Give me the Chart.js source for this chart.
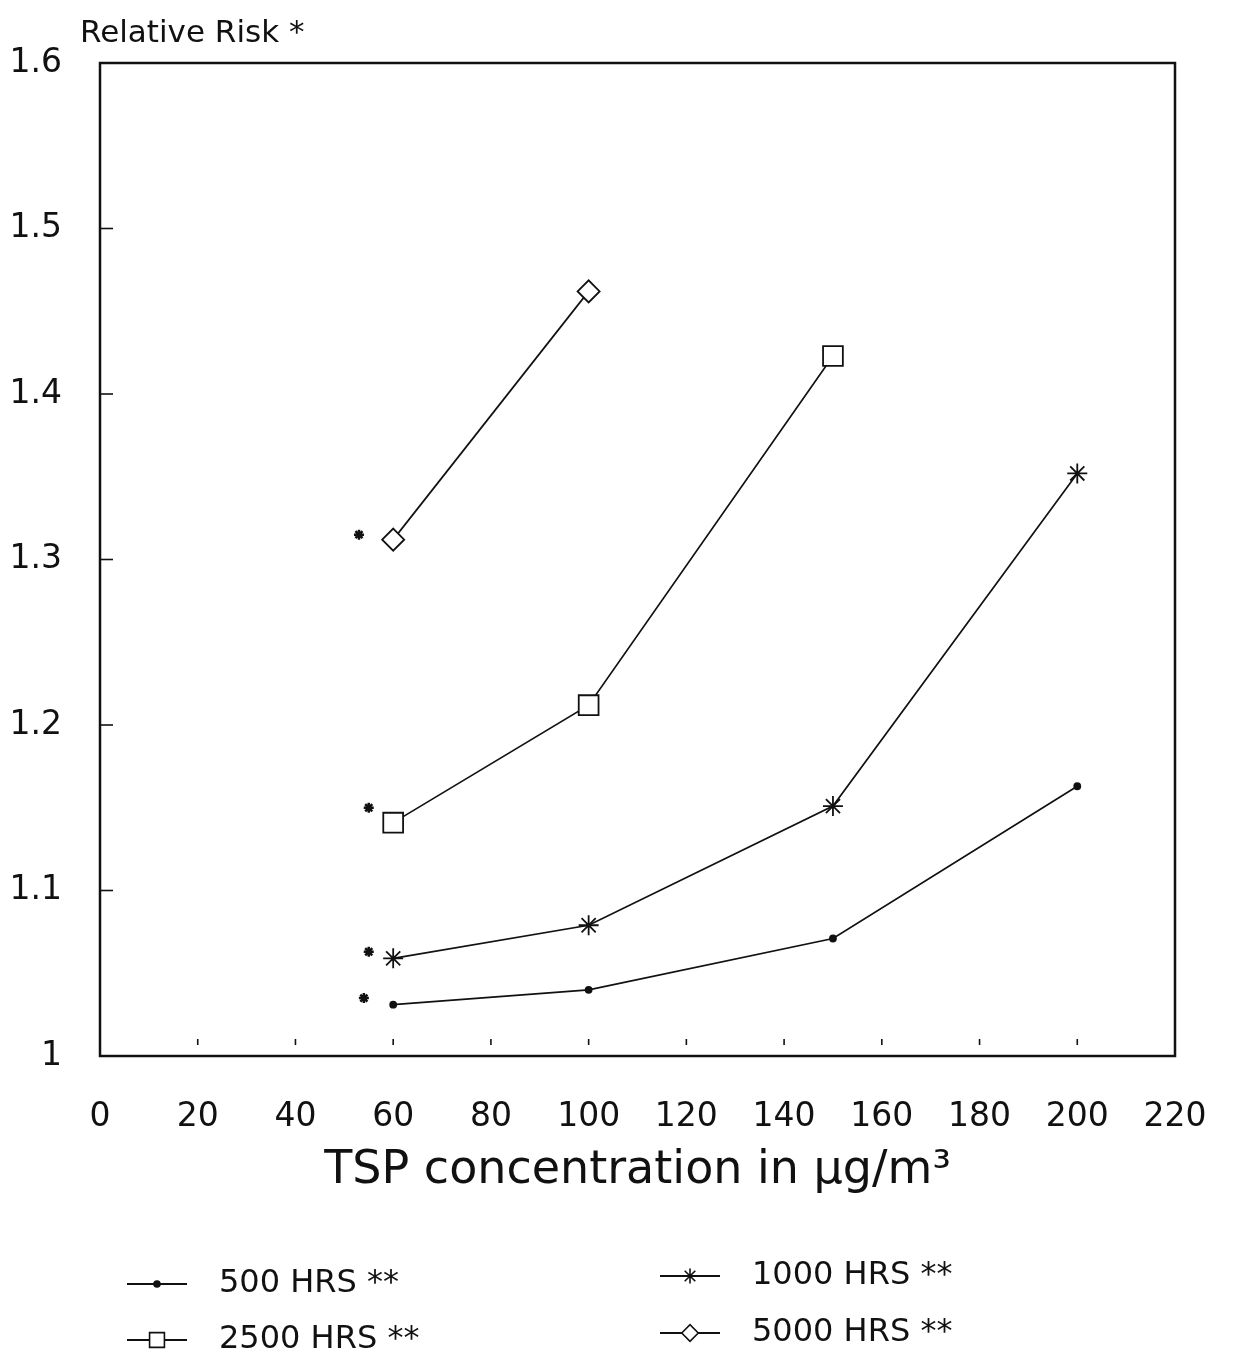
<!DOCTYPE html>
<html>
<head>
<meta charset="utf-8">
<script src="https://cdn.jsdelivr.net/npm/chart.js@4.4.1/dist/chart.umd.min.js"></script>
<style>
html, body { margin: 0; padding: 0; background: #fff; }
#wrap { width: 1245px; height: 1369px; }
</style>
</head>
<body>
<div id="wrap"><canvas id="riskChart"></canvas></div>
<script>
const xTicks = [0, 20, 40, 60, 80, 100, 120, 140, 160, 180, 200, 220];
const yTicks = [1, 1.1, 1.2, 1.3, 1.4, 1.5, 1.6];

const tspLevels = [60, 100, 150, 200];
const risk500 = [1.031, 1.040, 1.071, 1.163];
const risk1000 = [1.059, 1.079, 1.151, 1.352];
const risk2500 = [1.141, 1.212, 1.423];
const risk5000 = [1.312, 1.462];

// little footnote stars left of each first point
const footnoteX = [54, 55, 55, 53];
const footnoteY = [1.035, 1.063, 1.150, 1.315];

const seriesLabels = ['500 HRS **', '1000 HRS **', '2500 HRS **', '5000 HRS **'];
const yAxisTitle = 'Relative Risk *';
const xAxisTitle = 'TSP concentration in \u03bcg/m\u00b3';

const ink = '#111';
const tickFont = { family: 'DejaVu Sans', size: 33 };

function pairs(xs, ys) {
    return ys.map((y, i) => ({ x: xs[i], y: y }));
}

function series(label, data, style, radius) {
    return {
        label: label,
        data: data,
        showLine: true,
        borderColor: ink,
        borderWidth: 1.7,
        pointStyle: style,
        pointRadius: radius,
        pointBorderColor: ink,
        pointBorderWidth: 1.8,
        pointBackgroundColor: style === 'circle' ? ink : '#fff',
        legendRadius: Math.max(3, radius * 0.75)
    };
}

const boxPlugin = {
    id: 'boxPlugin',
    afterDraw(chart) {
        const { ctx, chartArea: a, scales } = chart;
        ctx.save();
        ctx.strokeStyle = ink;
        ctx.lineWidth = 2.5;
        ctx.strokeRect(a.left, a.top, a.right - a.left, a.bottom - a.top);

        ctx.lineWidth = 1.6;
        xTicks.slice(1, -1).forEach(v => {
            const px = scales.x.getPixelForValue(v);
            ctx.beginPath();
            ctx.moveTo(px, a.bottom - 17);
            ctx.lineTo(px, a.bottom - 11);
            ctx.stroke();
        });
        yTicks.slice(1, -1).forEach(v => {
            const py = scales.y.getPixelForValue(v);
            ctx.beginPath();
            ctx.moveTo(a.left, py);
            ctx.lineTo(a.left + 13, py);
            ctx.stroke();
        });

        // y axis caption at top left
        ctx.fillStyle = ink;
        ctx.font = '31px "DejaVu Sans"';
        ctx.textBaseline = 'middle';
        ctx.textAlign = 'left';
        ctx.fillText(yAxisTitle, 80, 34);

        // legend, two columns
        const slots = [
            { ds: 0, x: 127, y: 1284 },
            { ds: 1, x: 660, y: 1276 },
            { ds: 2, x: 127, y: 1340 },
            { ds: 3, x: 660, y: 1333 }
        ];
        ctx.font = '32px "DejaVu Sans"';
        slots.forEach(s => {
            const ds = chart.data.datasets[s.ds];
            ctx.strokeStyle = ink;
            ctx.lineWidth = 1.8;
            ctx.beginPath();
            ctx.moveTo(s.x, s.y);
            ctx.lineTo(s.x + 60, s.y);
            ctx.stroke();
            ctx.fillStyle = ds.pointBackgroundColor;
            ctx.lineWidth = 1.6;
            Chart.helpers.drawPoint(ctx, {
                pointStyle: ds.pointStyle,
                radius: ds.legendRadius,
                rotation: 0,
                borderWidth: 1.6
            }, s.x + 30, s.y);
            ctx.fillStyle = ink;
            ctx.fillText(ds.label, s.x + 92, s.y);
        });
        ctx.restore();
    }
};

new Chart(document.getElementById('riskChart'), {
    type: 'scatter',
    data: {
        datasets: [
            series(seriesLabels[0], pairs(tspLevels, risk500), 'circle', 3),
            series(seriesLabels[1], pairs(tspLevels, risk1000), 'star', 10),
            series(seriesLabels[2], pairs(tspLevels, risk2500), 'rect', 14),
            series(seriesLabels[3], pairs(tspLevels, risk5000), 'rectRot', 11),
            {
                label: 'footnote',
                data: pairs(footnoteX, footnoteY),
                showLine: false,
                pointStyle: 'star',
                pointRadius: 5,
                pointBorderColor: ink,
                pointBorderWidth: 2.5
            }
        ]
    },
    options: {
        responsive: true,
        maintainAspectRatio: false,
        animation: false,
        events: [],
        layout: { padding: { top: 63, right: 70, bottom: 160, left: 0 } },
        plugins: {
            legend: { display: false },
            tooltip: { enabled: false }
        },
        scales: {
            x: {
                type: 'linear',
                min: 0,
                max: 220,
                afterBuildTicks: scale => { scale.ticks = xTicks.map(v => ({ value: v })); },
                afterFit: scale => { scale.height = 153; },
                grid: { display: false },
                border: { display: false },
                ticks: { color: ink, font: tickFont, padding: 34, maxRotation: 0, autoSkip: false },
                title: {
                    display: true,
                    text: xAxisTitle,
                    color: ink,
                    font: { family: 'DejaVu Sans', size: 46 },
                    padding: { top: 0, bottom: 10 }
                }
            },
            y: {
                type: 'linear',
                min: 1,
                max: 1.6,
                afterBuildTicks: scale => { scale.ticks = yTicks.map(v => ({ value: v })); },
                afterFit: scale => { scale.width = 100; },
                grid: { display: false },
                border: { display: false },
                ticks: {
                    color: ink,
                    font: tickFont,
                    padding: 30,
                    callback: v => String(Math.round(v * 10) / 10)
                }
            }
        }
    },
    plugins: [boxPlugin]
});
</script>
</body>
</html>
